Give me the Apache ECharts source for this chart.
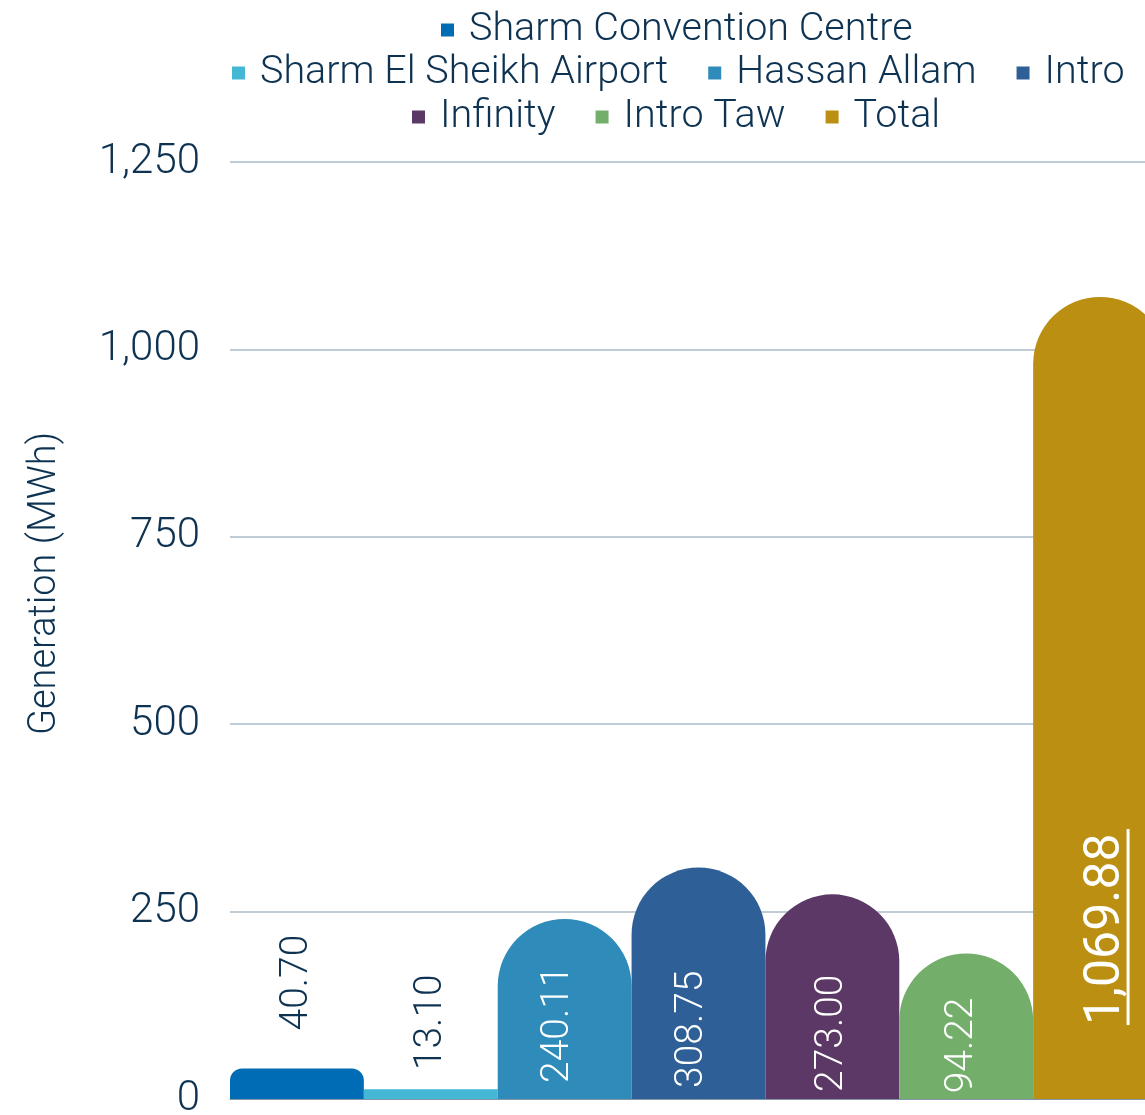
<!DOCTYPE html>
<html>
<head>
<meta charset="utf-8">
<title>Generation (MWh)</title>
<script src="https://cdn.jsdelivr.net/npm/echarts@6/dist/echarts.min.js"></script>
<style>
  html, body { margin: 0; padding: 0; background: #ffffff; overflow: hidden; }
  #chart { width: 1168px; height: 1115px; }
</style>
</head>
<body>
<div id="chart"></div>
<script>
// Sites and their generation
const sites = [
  'Sharm Convention Centre',
  'Sharm El Sheikh Airport',
  'Hassan Allam',
  'Intro',
  'Infinity',
  'Intro Taw',
  'Total'
];
const generation = [40.70, 13.10, 240.11, 308.75, 273.00, 194.22, 1069.88];
const yAxisMin = 0;
const yAxisMax = 1250;
const yAxisStep = 250;
const legendRows = [
  ['Sharm Convention Centre'],
  ['Sharm El Sheikh Airport', 'Hassan Allam', 'Intro'],
  ['Infinity', 'Intro Taw', 'Total']
];

const palette = ['#006cb5', '#44b7d5', '#2e8bba', '#2e5f96', '#5c3866', '#74ae6b', '#bb8f12'];
const ink = '#0e3352';
const FONT = 'Roboto';
const LIGHT = 300;

function withCommas(n, decimals) {
  const parts = n.toFixed(decimals).split('.');
  parts[0] = parts[0].replace(/\B(?=(\d{3})+(?!\d))/g, ',');
  return parts.join('.');
}

// per-bar look: corner rounding and where the rotated value sits
// (label offset is in the rotated text frame: its second entry moves the text sideways)
const barLook = [
  { radius: 12, label: { position: 'top', distance: 38, dx: 0, color: ink } },
  { radius: 0,  label: { position: 'top', distance: 19, dx: 0, color: ink } },
  { radius: 67, label: { position: 'insideBottom', distance: 16, dx: -6, color: '#ffffff' } },
  { radius: 67, label: { position: 'insideBottom', distance: 11, dx: -6, color: '#ffffff' } },
  { radius: 67, label: { position: 'insideBottom', distance: 7, dx: 0, color: '#ffffff' } },
  { radius: 67, label: { position: 'insideBottom', distance: -16, dx: -4, color: '#ffffff' } },
  { radius: 67, label: { position: 'insideBottom', distance: 74, dx: 8, color: '#ffffff', total: true } }
];

const series = sites.map((name, i) => {
  const look = barLook[i];
  const label = {
    show: true,
    position: look.label.position,
    distance: look.label.distance,
    offset: [0, look.label.dx],
    rotate: 90,
    align: 'left',
    verticalAlign: 'middle',
    color: look.label.color,
    fontFamily: FONT,
    fontWeight: LIGHT,
    fontSize: 39,
    formatter: p => withCommas(p.value, 2)
  };
  if (look.label.total) {
    label.formatter = p => '{a|' + withCommas(p.value, 2) + '}\n{u|}';
    label.rich = {
      a: { color: '#ffffff', fontFamily: FONT, fontSize: 50, fontWeight: 'normal', lineHeight: 40 },
      u: { backgroundColor: '#ffffff', width: 196, height: 3, lineHeight: 3 }
    };
  }
  return {
    name: name,
    type: 'bar',
    data: [generation[i]],
    barGap: '0%',
    barCategoryGap: '0%',
    itemStyle: { color: palette[i], borderRadius: [look.radius, look.radius, 0, 0] },
    label: label
  };
});

const legendLeft = [441, 232, 412];
const legendTop = [10, 53, 97];
const legends = legendRows.map((row, r) => ({
  data: row,
  top: legendTop[r],
  left: legendLeft[r],
  padding: 0,
  icon: 'rect',
  itemWidth: 13,
  itemHeight: 13,
  itemGap: 40,
  textStyle: { color: ink, fontFamily: FONT, fontWeight: LIGHT, fontSize: 39.5, padding: [0, 0, 0, 10] }
}));

const chart = echarts.init(document.getElementById('chart'), null, { renderer: 'canvas' });
chart.setOption({
  animation: false,
  backgroundColor: '#ffffff',
  color: palette,
  legend: legends,
  grid: { left: 230, top: 162, height: 937, width: 937, containLabel: false, outerBoundsMode: 'none' },
  xAxis: {
    type: 'category',
    data: [''],
    axisTick: { show: false },
    axisLabel: { show: false },
    axisLine: { show: true, lineStyle: { color: '#8496a8', width: 1 } },
    splitLine: { show: false }
  },
  yAxis: {
    type: 'value',
    min: yAxisMin,
    max: yAxisMax,
    interval: yAxisStep,
    name: 'Generation (MWh)',
    nameLocation: 'middle',
    nameGap: 166,
    nameTextStyle: { color: ink, fontFamily: FONT, fontWeight: LIGHT, fontSize: 38, padding: [0, 0, 0, 94] },
    axisLine: { show: false },
    axisTick: { show: false },
    axisLabel: {
      color: ink,
      fontFamily: FONT,
      fontWeight: LIGHT,
      fontSize: 42,
      margin: 30,
      formatter: v => withCommas(v, 0)
    },
    splitLine: { lineStyle: { color: '#c0ccd5', width: 2 } }
  },
  series: series
});
</script>
</body>
</html>
